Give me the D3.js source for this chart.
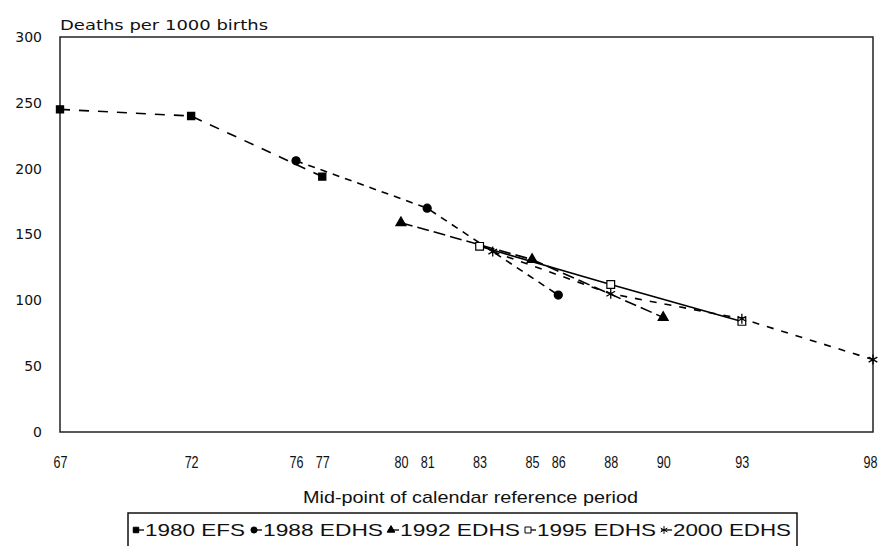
<!DOCTYPE html>
<html><head><meta charset="utf-8">
<script src="https://cdn.jsdelivr.net/npm/d3@7"></script>
<style>
body{margin:0;background:#fff;}
svg{display:block;}
</style></head>
<body>
<svg id="c" width="883" height="546"></svg>
<script>
const xTicks = [67,72,76,77,80,81,83,85,86,88,90,93,98];
const yTicks = [0,50,100,150,200,250,300];
const seriesNames = ["1980 EFS","1988 EDHS","1992 EDHS","1995 EDHS","2000 EDHS"];
const efs1980 = [[67,245],[72,240],[77,194]];
const edhs1988 = [[76,206],[81,170],[86,104]];
const edhs1992 = [[80,159],[85,131],[90,87]];
const edhs1995 = [[83,141],[88,112],[93,84]];
const edhs2000 = [[83.5,137],[88,105],[93,86],[98,55]];

const svg = d3.select("#c");
const L=60,R=873,T=37,B=432;
const x = d3.scaleLinear().domain([67,98]).range([L,R]);
const y = d3.scaleLinear().domain([0,300]).range([B,T]);

// frame
svg.append("rect").attr("x",L).attr("y",T).attr("width",R-L).attr("height",B-T)
  .attr("fill","none").attr("stroke","#222").attr("stroke-width",1.5);

// y axis
const ya = svg.append("g").attr("transform",`translate(${L},0)`)
  .call(d3.axisLeft(y).tickValues(yTicks).tickSize(0).tickPadding(18));
ya.select(".domain").remove();
ya.selectAll("text").attr("font-family","DejaVu Sans, sans-serif").attr("font-size",14).attr("fill","#111");

// x axis
const xa = svg.append("g").attr("transform",`translate(0,${B})`)
  .call(d3.axisBottom(x).tickValues(xTicks).tickSize(0).tickFormat(d=>d));
xa.select(".domain").remove();
xa.selectAll("text").attr("y",36).attr("dy",0)
  .attr("x",d=>d===98?-3:0)
  .attr("font-family","Liberation Sans, Arial, sans-serif")
  .attr("font-size",17).attr("textLength",14).attr("lengthAdjust","spacingAndGlyphs").attr("fill","#111");

svg.append("text").attr("x",L).attr("y",30).text("Deaths per 1000 births")
  .attr("font-family","DejaVu Sans, sans-serif").attr("font-size",14)
  .attr("textLength",208).attr("lengthAdjust","spacingAndGlyphs").attr("fill","#111");
svg.append("text").attr("x",303).attr("y",503)
  .text("Mid-point of calendar reference period")
  .attr("font-family","Liberation Sans, Arial, sans-serif")
  .attr("font-size",17).attr("textLength",335).attr("lengthAdjust","spacingAndGlyphs").attr("fill","#111");

const line = d3.line().x(d=>x(d[0])).y(d=>y(d[1]));
const data = [efs1980, edhs1988, edhs1992, edhs1995, edhs2000];
const dashes = ["10,9","7,6","12,5",null,"7,8"];
const symbols = [d3.symbolSquare, d3.symbolCircle, d3.symbolTriangle, d3.symbolSquare, d3.symbolAsterisk];
const sizes = [50,50,42,60,70];
const fills = ["#000","#000","#000","#fff","none"];

data.forEach((s,i)=>{
  const p = svg.append("path").attr("d",line(s)).attr("fill","none")
    .attr("stroke","#000").attr("stroke-width",1.6);
  if(dashes[i]) p.attr("stroke-dasharray",dashes[i]);
});
data.forEach((s,i)=>{
  svg.selectAll(null).data(s).enter().append("path")
    .attr("transform",d=>`translate(${x(d[0])},${y(d[1])})`)
    .attr("d",d3.symbol(symbols[i],sizes[i]))
    .attr("fill",fills[i]).attr("stroke","#000").attr("stroke-width",i===3?1.2:1.3);
});

// legend
svg.append("rect").attr("x",128).attr("y",513).attr("width",669).attr("height",40)
  .attr("fill","#fff").attr("stroke","#111").attr("stroke-width",1.5);
const legX = [136,254,391,528,664];
const legW = [100,120,120,119,118];
seriesNames.forEach((n,i)=>{
  const g = svg.append("g").attr("transform",`translate(${legX[i]},530)`);
  g.append("line").attr("x1",-3).attr("x2",8).attr("y1",0).attr("y2",0).attr("stroke","#000").attr("stroke-width",1.3);
  g.append("path").attr("d",d3.symbol(symbols[i],sizes[i]*0.6))
    .attr("fill",fills[i]).attr("stroke","#000").attr("stroke-width",1);
  g.append("text").attr("x",9).attr("y",6).text(n)
    .attr("font-family","Liberation Sans, Arial, sans-serif").attr("font-size",17)
    .attr("textLength",legW[i]).attr("lengthAdjust","spacingAndGlyphs").attr("fill","#111");
});
</script>
</body></html>
